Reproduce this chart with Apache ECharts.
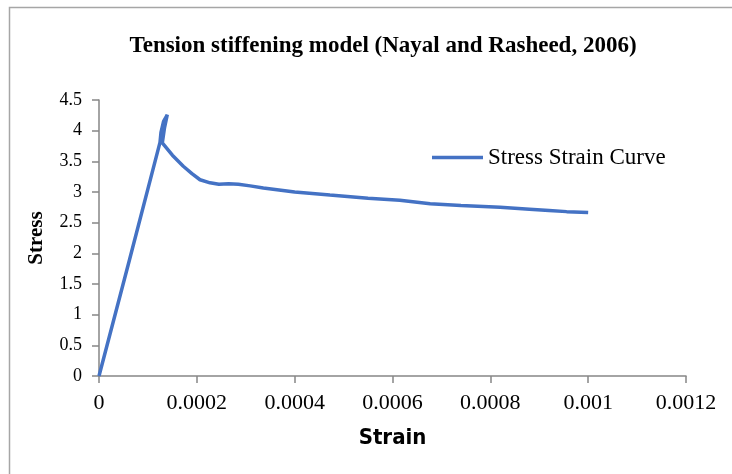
<!DOCTYPE html>
<html>
<head>
<meta charset="utf-8">
<script src="https://cdn.jsdelivr.net/npm/echarts@6/dist/echarts.min.js"></script>
<style>
  html, body { margin: 0; padding: 0; background: #fff; }
  #chart { width: 732px; height: 474px; }
</style>
</head>
<body>
<div id="chart"></div>
<script>
// Tension stiffening curve
const strain = [0, 0.0000625, 0.0001247, 0.0001267, 0.000132, 0.0001396, 0.000134, 0.0001294,
  0.00015, 0.0001723, 0.00019, 0.0002065, 0.000227, 0.000245, 0.000265, 0.000285, 0.000309,
  0.000336, 0.0004, 0.000472, 0.00055, 0.000615, 0.000677, 0.00074, 0.00082, 0.00088,
  0.00092, 0.000956, 0.001]
const stress = [0, 1.9, 3.81, 3.97, 4.15, 4.26, 4.05, 3.8,
  3.6, 3.42, 3.3, 3.2, 3.15, 3.125, 3.135, 3.125, 3.1,
  3.065, 3.0, 2.95, 2.9, 2.865, 2.81, 2.78, 2.75, 2.72,
  2.7, 2.68, 2.665]
const xTicks = [0, 0.0002, 0.0004, 0.0006, 0.0008, 0.001, 0.0012]
const yTicks = [0, 0.5, 1, 1.5, 2, 2.5, 3, 3.5, 4, 4.5]

const serif = '"Liberation Serif", "Times New Roman", serif'
const axisGray = '#868686'

const chart = echarts.init(document.getElementById('chart'), null, { renderer: 'canvas' })

chart.setOption({
  backgroundColor: '#fff',
  animation: false,
  title: {
    text: 'Tension stiffening model (Nayal and Rasheed, 2006)',
    left: 378,
    top: 30,
    textAlign: 'center',
    textStyle: { fontFamily: serif, fontSize: 23, fontWeight: 'bold', color: '#000' }
  },
  legend: {
    left: 427,
    top: 141,
    icon: 'rect',
    itemWidth: 51,
    itemHeight: 3.5,
    data: ['Stress Strain Curve'],
    textStyle: { fontFamily: serif, fontSize: 23, color: '#000' }
  },
  grid: { left: 99, right: 46, top: 100, bottom: 98 },
  xAxis: {
    type: 'value',
    min: xTicks[0],
    max: xTicks[xTicks.length - 1],
    interval: 0.0002,
    name: 'Strain',
    nameLocation: 'middle',
    nameGap: 51,
    nameTextStyle: {
      fontFamily: '"Liberation Sans Narrow", "DejaVu Sans Condensed", sans-serif',
      fontSize: 22, fontWeight: 'bold', color: '#000'
    },
    axisLine: { lineStyle: { color: axisGray, width: 1.5 } },
    axisTick: { show: true, inside: false, length: 7, lineStyle: { color: axisGray, width: 1.5 } },
    splitLine: { show: false },
    axisLabel: {
      margin: 16,
      fontFamily: serif, fontSize: 22, color: '#000',
      formatter: (v) => String(parseFloat(v.toFixed(4)))
    }
  },
  yAxis: {
    type: 'value',
    min: yTicks[0],
    max: yTicks[yTicks.length - 1],
    interval: 0.5,
    name: 'Stress',
    nameLocation: 'middle',
    nameGap: 52,
    nameRotate: 90,
    nameTextStyle: { fontFamily: serif, fontSize: 21, fontWeight: 'bold', color: '#000' },
    axisLine: { show: true, lineStyle: { color: axisGray, width: 1.5 } },
    axisTick: { show: true, length: 7, lineStyle: { color: axisGray, width: 1.5 } },
    splitLine: { show: false },
    axisLabel: { margin: 17, fontFamily: serif, fontSize: 18, color: '#000' }
  },
  graphic: [
    {
      type: 'rect',
      shape: { x: 9.5, y: 7.5, width: 800, height: 600 },
      style: { fill: 'none', stroke: '#a6a6a6', lineWidth: 1.5 },
      silent: true
    }
  ],
  series: [
    {
      name: 'Stress Strain Curve',
      type: 'line',
      symbol: 'none',
      smooth: false,
      lineStyle: { color: '#4472C4', width: 3.5 },
      itemStyle: { color: '#4472C4' },
      data: strain.map((s, i) => [s, stress[i]])
    }
  ]
})
</script>
</body>
</html>
